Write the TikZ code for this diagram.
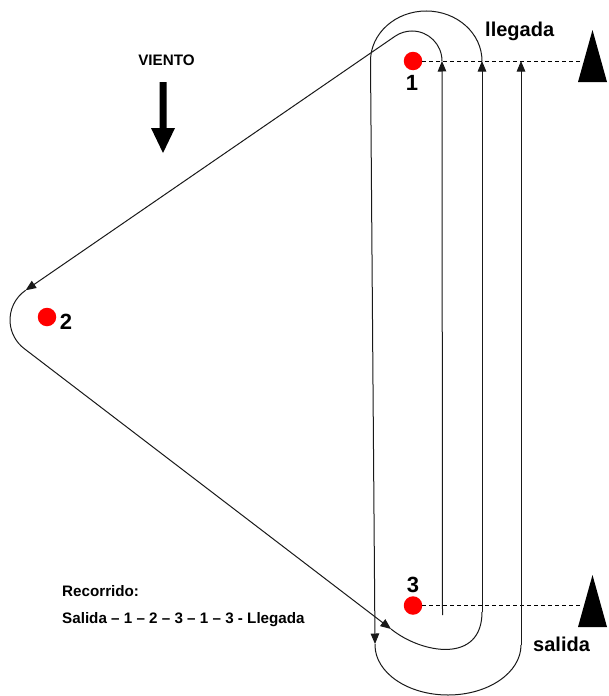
\documentclass[tikz,border=0pt]{standalone}
\usepackage{fontspec}
\setmainfont{Liberation Sans}
\usetikzlibrary{arrows.meta}
\begin{document}
\begin{tikzpicture}[x=1pt,y=1pt,
  course/.style={draw=black!90, line width=1pt},
  tip/.style={-{Triangle[length=10.5pt,width=8.5pt]}},
  buoy/.style={circle, fill=red, minimum size=18.5pt, inner sep=0pt},
  lbl/.style={font=\fontsize{22}{24}\selectfont\bfseries, inner sep=0pt},
  bigtxt/.style={font=\fontsize{20}{22}\selectfont\bfseries, inner sep=0pt, anchor=base west},
  smalltxt/.style={font=\fontsize{15.2}{17}\selectfont\bfseries, inner sep=0pt, anchor=base west},
  dashline/.style={draw=black, line width=1pt, dash pattern=on 4pt off 3pt},
  flag/.style={fill=black}]
\useasboundingbox (0,0) rectangle (608,-696);
% buoys
\node[buoy] (m1) at (413,-61) {};
\node[buoy] (m2) at (47,-317) {};
\node[buoy] (m3) at (413,-605.5) {};
\node[lbl] (l1) at (412,-83) {1};
\node[lbl] (l2) at (66,-322) {2};
\node[lbl] (l3) at (413,-585) {3};
% flags
\coordinate (f1) at (583,-61);
\coordinate (f3) at (583,-605.5);
\fill[flag] (578,-82) -- (607,-82) -- (592.5,-30) -- cycle;
\fill[flag] (578,-627) -- (607,-627) -- (592.5,-575) -- cycle;
\draw[dashline] (m1.east) -- (f1);
\draw[dashline] (m3.east) -- (f3);
% course
\coordinate (a0) at (442.5,-615);
\coordinate (a1) at (442,-61);
\coordinate (t2) at (25.6,-290.3);
\coordinate (b1) at (391,-629);
\coordinate (c0) at (482,-612);
\coordinate (c1) at (482,-61);
\coordinate (d1) at (375,-644);
\coordinate (e0) at (521,-645);
\coordinate (e1) at (521,-61);
\draw[course,tip] (a0) -- (a1);
\draw[course,tip] (a1) arc[start angle=0,end angle=124.6,radius=30] -- (t2);
\draw[course,tip] (t2) arc[start angle=124.52,end angle=233.32,radius=36] -- (b1);
\draw[course] (b1) .. controls (422,-654) and (482,-664) .. (c0);
\draw[course,tip] (c0) -- (c1);
\draw[course,tip] (c1) arc[start angle=0,end angle=180,x radius=55.75,y radius=50] -- (d1);
\draw[course] (d1) -- (375,-645) arc[start angle=180,end angle=360,x radius=73,y radius=50] -- (e0);
\draw[course,tip] (e0) -- (e1);
% wind
\node[smalltxt, anchor=base] (viento) at (166.5,-65) {VIENTO};
\fill (159.5,-82) -- (166.5,-82) -- (166.5,-128) -- (175,-128) -- (163,-153) -- (151,-128) -- (159.5,-128) -- cycle;
% texts
\node[bigtxt] (lleg) at (485,-36.7) {llegada};
\node[bigtxt] (sal) at (533,-651.7) {salida};
\node[smalltxt] (rec) at (62,-596.7) {Recorrido:};
\node[smalltxt] (seq) at (62,-623) {Salida – 1 – 2 – 3 – 1 – 3 - Llegada};
\end{tikzpicture}
\end{document}
